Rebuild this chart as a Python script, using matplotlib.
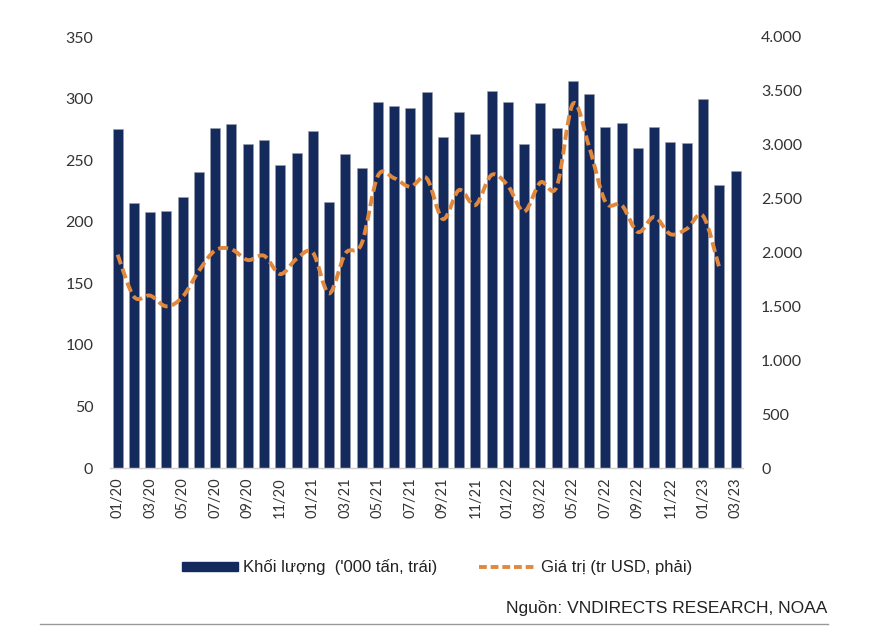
import matplotlib
matplotlib.use("Agg")
import matplotlib.pyplot as plt
from matplotlib.path import Path
from matplotlib.patches import PathPatch, Patch
from matplotlib.lines import Line2D
from matplotlib.ticker import FuncFormatter, MultipleLocator
from matplotlib import font_manager
import numpy as np

months = ["01/20", "02/20", "03/20", "04/20", "05/20", "06/20", "07/20", "08/20", "09/20", "10/20",
          "11/20", "12/20", "01/21", "02/21", "03/21", "04/21", "05/21", "06/21", "07/21", "08/21",
          "09/21", "10/21", "11/21", "12/21", "01/22", "02/22", "03/22", "04/22", "05/22", "06/22",
          "07/22", "08/22", "09/22", "10/22", "11/22", "12/22", "01/23", "02/23", "03/23"]

volume = [275, 215, 208, 209, 220, 240, 276, 279, 263, 266,
          246, 256, 274, 216, 255, 244, 297, 294, 292, 305,
          269, 289, 271, 306, 297, 263, 296, 276, 314, 304,
          277, 280, 260, 277, 265, 264, 300, 230, 241]

value = [1980, 1590, 1600, 1500, 1590, 1830, 2020, 2030, 1930, 1970,
         1800, 1940, 2000, 1620, 1990, 2080, 2710, 2690, 2610, 2690,
         2310, 2580, 2440, 2720, 2620, 2380, 2650, 2610, 3380, 2980,
         2470, 2440, 2190, 2330, 2170, 2220, 2340, 1860]

bar_label = "Khối lượng  ('000 tấn, trái)"
line_label = "Giá trị (tr USD, phải)"
source = "Nguồn: VNDIRECTS RESEARCH, NOAA"

navy = "#142a5c"
orange = "#e0883e"
txt = "#333333"

names = {f.name for f in font_manager.fontManager.ttflist}
main_font = "Lato" if "Lato" in names else "DejaVu Sans"
arial = "Liberation Sans" if "Liberation Sans" in names else "DejaVu Sans"
narrow = "Liberation Sans Narrow" if "Liberation Sans Narrow" in names else arial

fig = plt.figure(figsize=(8.92, 6.26), dpi=100)
ax = fig.add_axes([110/892, 1-468/626, 633/892, 431/626])
ax2 = ax.twinx()

x = np.arange(len(months))
ax.bar(x, volume, width=0.615, color=navy, edgecolor="#9aa0ab", linewidth=0.4, zorder=2)
ax.set_xlim(-0.47, len(months) - 1 + 0.46)
ax.set_ylim(0, 350)
ax.yaxis.set_major_locator(MultipleLocator(50))
ax2.set_ylim(0, 4000)
ax2.yaxis.set_major_locator(MultipleLocator(500))
ax2.yaxis.set_major_formatter(FuncFormatter(lambda v, p: f"{int(v):,}".replace(",", ".")))

# smoothed line (Catmull-Rom as cubic bezier)
xv = np.arange(len(value), dtype=float)
yv = np.array(value, dtype=float)
verts = [(xv[0], yv[0])]
codes = [Path.MOVETO]
n = len(xv)
for i in range(n - 1):
    p0 = np.array([xv[max(i-1, 0)], yv[max(i-1, 0)]])
    p1 = np.array([xv[i], yv[i]])
    p2 = np.array([xv[i+1], yv[i+1]])
    p3 = np.array([xv[min(i+2, n-1)], yv[min(i+2, n-1)]])
    c1 = p1 + (p2 - p0) / 6.0
    c2 = p2 - (p3 - p1) / 6.0
    verts += [tuple(c1), tuple(c2), tuple(p2)]
    codes += [Path.CURVE4] * 3
pp = PathPatch(Path(verts, codes), fill=False, edgecolor=orange, linewidth=2.8,
               linestyle=(0, (2.6, 1.2)), capstyle="butt", zorder=3)
ax2.add_patch(pp)

for a in (ax, ax2):
    for s in a.spines.values():
        s.set_visible(False)
    a.tick_params(length=0)
ax.spines["bottom"].set_visible(True)
ax.spines["bottom"].set_color("#d0d0d0")
ax.spines["bottom"].set_linewidth(1.0)

ax.set_xticks(x[::2])
ax.set_xticklabels(months[::2], rotation=90, fontsize=10.5, color=txt, family=main_font)
ax.tick_params(axis="x", pad=7)
ax.tick_params(axis="y", pad=12, labelsize=11.5, labelcolor=txt)
ax2.tick_params(axis="y", pad=13, labelsize=11.5, labelcolor=txt)
for lab in ax.get_yticklabels() + ax2.get_yticklabels():
    lab.set_family(main_font)

handles = [Patch(facecolor=navy, edgecolor=navy),
           Line2D([0], [0], color=orange, linewidth=2.8, linestyle=(0, (2.0, 1.0)))]
leg = fig.legend(handles, [bar_label, line_label], loc="center", bbox_to_anchor=(437/892, 1-567/626),
                 ncol=2, frameon=False, handlelength=3.4, handleheight=0.45,
                 handletextpad=0.3, columnspacing=2.5, prop={"family": arial, "size": 12})
for t in leg.get_texts():
    t.set_color("#222222")
leg.get_texts()[1].set_family(narrow)

fig.text(827/892, 1-608/626, source, ha="right", va="center", fontsize=12.5,
         family=narrow, color="#222222")
fig.add_artist(Line2D([40/892, 828/892], [1-624/626, 1-624/626], color="#999999", linewidth=1.0))

fig.savefig("out.png", dpi=100)
